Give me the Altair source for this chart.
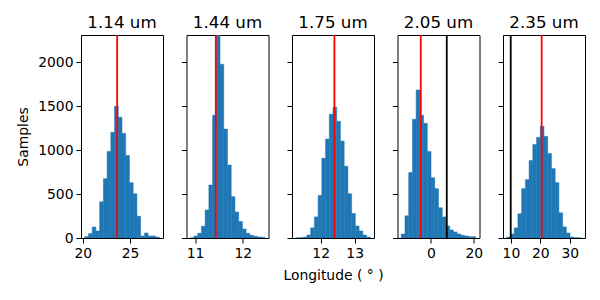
import altair as alt
import pandas as pd
import numpy as np

titles = ["1.14 um", "1.44 um", "1.75 um", "2.05 um", "2.35 um"]

counts_1 = [15, 50, 125, 80, 412, 675, 985, 1202, 1500, 1374, 1191, 939, 630, 504, 248, 23, 57, 23, 23, 11]
counts_2 = [2, 23, 53, 133, 318, 602, 1397, 2310, 1977, 1239, 830, 470, 295, 189, 102, 53, 30, 19, 11, 8]
counts_3 = [1, 3, 11, 34, 115, 240, 485, 908, 1126, 1408, 1489, 1328, 1103, 817, 504, 279, 137, 80, 34, 11]
counts_4 = [46, 252, 744, 1351, 1683, 1397, 1305, 985, 687, 561, 344, 240, 137, 92, 69, 46, 31, 23, 15, 15]
counts_5 = [11, 46, 115, 275, 561, 664, 882, 1065, 1145, 1271, 1157, 962, 790, 630, 286, 126, 57, 11, 3, 1]

bin_range_1 = (20.2, 28.1)
bin_range_2 = (10.90, 12.46)
bin_range_3 = (11.265, 13.46)
bin_range_4 = (-13.8, 20.9)
bin_range_5 = (8.57, 33.89)

red_lines = [23.64, 11.435, 12.405, -4.7, 20.44]
black_lines = [None, None, None, 7.4, 9.93]

x_ticks = [[20, 25], [11, 12], [12, 13], [0, 20], [10, 20, 30]]
x_domains = [[19.805, 28.495], [10.822, 12.538], [11.155, 13.57], [-15.535, 22.635], [7.304, 35.156]]

y_ticks = [0, 500, 1000, 1500, 2000]
y_max = 2310

all_counts = [counts_1, counts_2, counts_3, counts_4, counts_5]
all_ranges = [bin_range_1, bin_range_2, bin_range_3, bin_range_4, bin_range_5]

FONT = "DejaVu Sans"
BLUE = "#1f77b4"
panels = []
for i in range(5):
    c = all_counts[i]
    a, b = all_ranges[i]
    edges = np.linspace(a, b, len(c) + 1)
    df = pd.DataFrame({"lo": edges[:-1], "hi": edges[1:], "count": c, "base": 0})
    xscale = alt.Scale(domain=x_domains[i], nice=False, zero=False)
    yscale = alt.Scale(domain=[0, y_max], nice=False)
    if i == 0:
        yaxis = alt.Axis(values=y_ticks, format="d", title="Samples", titleFontWeight="normal",
                         titleFontSize=13.9, titleFont=FONT, titlePadding=7, titleColor="black")
    else:
        yaxis = alt.Axis(values=y_ticks, labels=False, title=None)
    xtitle = "Longitude ( ° )" if i == 2 else ""
    xaxis = alt.Axis(values=x_ticks[i], title=xtitle, titleFontWeight="normal",
                     titleFontSize=13.9, titleFont=FONT, titlePadding=9, titleColor="black",
                     format="d")
    bars = alt.Chart(df).mark_rect(color=BLUE, stroke=BLUE, strokeWidth=0.5, clip=True).encode(
        x=alt.X("lo:Q", scale=xscale, axis=xaxis),
        x2="hi:Q",
        y=alt.Y("count:Q", scale=yscale, axis=yaxis),
        y2="base:Q",
    )
    lines = [{"lo": red_lines[i], "col": "red"}]
    if black_lines[i] is not None:
        lines.append({"lo": black_lines[i], "col": "black"})
    rules = alt.Chart(pd.DataFrame(lines)).mark_rule(strokeWidth=1.8).encode(
        x=alt.X("lo:Q", scale=xscale, axis=xaxis),
        color=alt.Color("col:N", scale=None),
    )
    panel = alt.layer(bars, rules).properties(
        width=82, height=203,
        title=alt.TitleParams(titles[i], fontSize=16.7, fontWeight="normal", font=FONT,
                              color="black", offset=2, anchor="middle"),
    )
    panels.append(panel)

chart = alt.hconcat(*panels, spacing=23.5, bounds="flush").properties(
    padding={"left": 8, "top": 6, "right": 5, "bottom": 5}
).configure_view(
    stroke="black", strokeWidth=1
).configure_axis(
    domain=False, grid=False, tickColor="black", tickSize=5, tickWidth=1,
    labelColor="black", labelFont=FONT, labelFontSize=13.9, labelPadding=3,
)

chart.save("out.html", embed_options={"renderer": "svg", "actions": False})
